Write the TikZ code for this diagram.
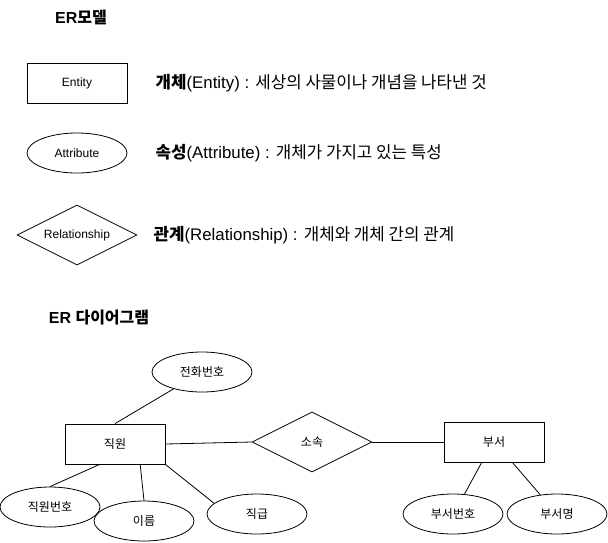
\documentclass[tikz,border=0pt]{standalone}
\usepackage{fontspec}
\setmainfont{Liberation Sans}
\newfontfamily\hangul{Noto Sans CJK KR}
\usetikzlibrary{shapes.geometric}

\begin{document}
\begin{tikzpicture}[x=1pt, y=-1pt, line width=0.8pt,
    every node/.style={font=\fontsize{12}{14}\selectfont},
    entitybox/.style={draw, rectangle, minimum width=100pt, minimum height=40pt, inner sep=0pt},
    attrbox/.style={draw, ellipse, minimum width=100pt, minimum height=40pt, inner sep=0pt},
    relbox/.style={draw, diamond, aspect=2, minimum width=120pt, minimum height=60pt, inner sep=0pt},
    desc/.style={anchor=west, font=\fontsize{16.8}{19}\selectfont},
    heading/.style={font=\fontsize{16}{19}\selectfont\bfseries}]

    \useasboundingbox (0,0) rectangle (608,542);

    % Legend
    \node (model_title) at (81,17) [heading] {ER{\hangul 모델}};
    \node (entity) at (77,83) [entitybox] {Entity};
    \node (attribute) at (77,153) [attrbox] {Attribute};
    \node (relationship) at (77,235) [relbox] {Relationship};
    \node (entity_desc) at (152,83) [desc] {{\hangul\bfseries 개체}(Entity) : {\hangul 세상의 사물이나 개념을 나타낸 것}};
    \node (attribute_desc) at (152,153) [desc] {{\hangul\bfseries 속성}(Attribute) : {\hangul 개체가 가지고 있는 특성}};
    \node (relationship_desc) at (150,235) [desc] {{\hangul\bfseries 관계}(Relationship) : {\hangul 개체와 개체 간의 관계}};

    % Nodes
    \node (diagram_title) at (99,318) [heading] {ER {\hangul 다이어그램}};
    \node (phone) at (202,372) [attrbox] {\hangul 전화번호};
    \node (employee) at (115,444) [entitybox] {\hangul 직원};
    \node (belongs) at (312,442) [relbox] {\hangul 소속};
    \node (dept) at (494,442) [entitybox] {\hangul 부서};
    \node (employee_no) at (50,507) [attrbox] {\hangul 직원번호};
    \node (name) at (144,521) [attrbox] {\hangul 이름};
    \node (grade) at (257,514) [attrbox] {\hangul 직급};
    \node (dept_no) at (453,514) [attrbox] {\hangul 부서번호};
    \node (dept_name) at (557,514) [attrbox] {\hangul 부서명};

    % Edges
    \draw (phone) -- (employee.north);
    \draw (employee.east) -- (belongs.west);
    \draw (belongs.east) -- (dept.west);
    \draw (employee.-127) -- (employee_no.north);
    \draw (employee.-39) -- (name.north);
    \draw (employee.south east) -- (grade.166);
    \draw (dept.-121) -- (dept_no.60);
    \draw (dept.-48) -- (dept_name.131);

\end{tikzpicture}
\end{document}
